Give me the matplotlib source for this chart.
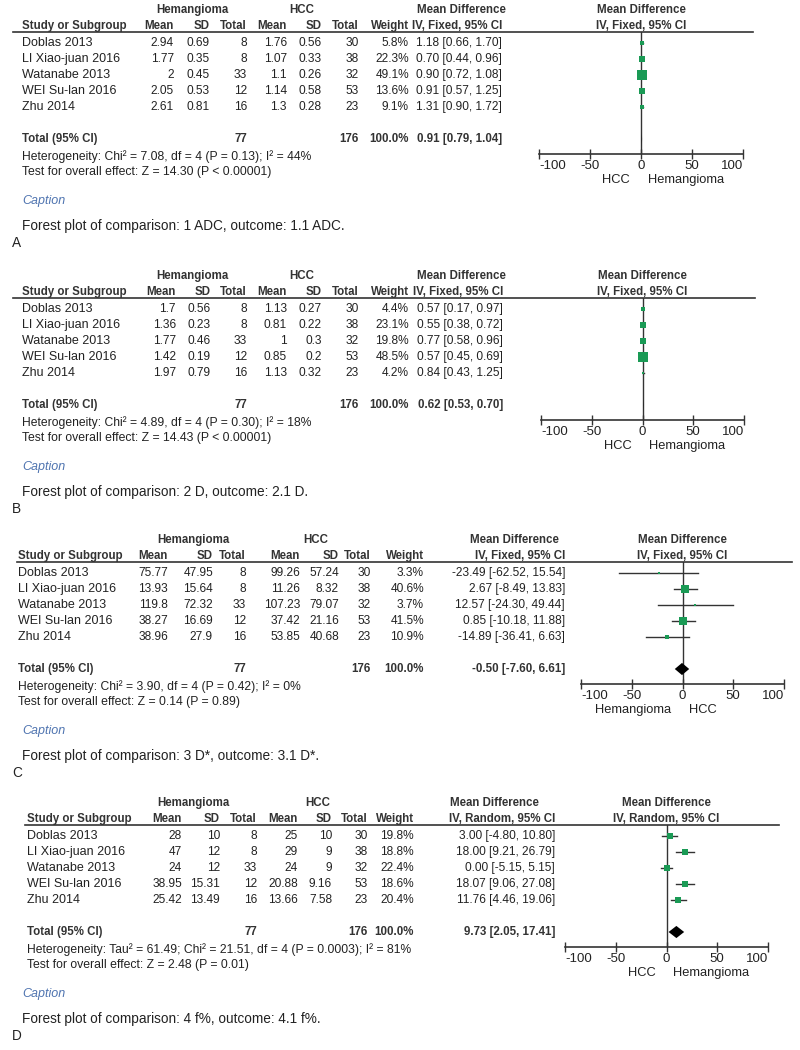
import matplotlib.pyplot as plt
from matplotlib.lines import Line2D

plt.rcParams['font.family'] = ['Liberation Sans', 'DejaVu Sans']
plt.rcParams['axes.unicode_minus'] = False

W, H = 800, 1050

# studies and group sizes (same for all four comparisons)
studies = ['Doblas 2013', 'LI Xiao-juan 2016', 'Watanabe 2013', 'WEI Su-lan 2016', 'Zhu 2014']
hem_n = [8, 8, 33, 12, 16]
hcc_n = [30, 38, 32, 53, 23]

# A - ADC
a_hem_mean = [2.94, 1.77, 2, 2.05, 2.61]
a_hem_sd = [0.69, 0.35, 0.45, 0.53, 0.81]
a_hcc_mean = [1.76, 1.07, 1.1, 1.14, 1.3]
a_hcc_sd = [0.56, 0.33, 0.26, 0.58, 0.28]
a_weight = [5.8, 22.3, 49.1, 13.6, 9.1]
a_md = [1.18, 0.70, 0.90, 0.91, 1.31]
a_lo = [0.66, 0.44, 0.72, 0.57, 0.90]
a_hi = [1.70, 0.96, 1.08, 1.25, 1.72]
a_total = [0.91, 0.79, 1.04]

# B - D
b_hem_mean = [1.7, 1.36, 1.77, 1.42, 1.97]
b_hem_sd = [0.56, 0.23, 0.46, 0.19, 0.79]
b_hcc_mean = [1.13, 0.81, 1, 0.85, 1.13]
b_hcc_sd = [0.27, 0.22, 0.3, 0.2, 0.32]
b_weight = [4.4, 23.1, 19.8, 48.5, 4.2]
b_md = [0.57, 0.55, 0.77, 0.57, 0.84]
b_lo = [0.17, 0.38, 0.58, 0.45, 0.43]
b_hi = [0.97, 0.72, 0.96, 0.69, 1.25]
b_total = [0.62, 0.53, 0.70]

# C - D*
c_hem_mean = [75.77, 13.93, 119.8, 38.27, 38.96]
c_hem_sd = [47.95, 15.64, 72.32, 16.69, 27.9]
c_hcc_mean = [99.26, 11.26, 107.23, 37.42, 53.85]
c_hcc_sd = [57.24, 8.32, 79.07, 21.16, 40.68]
c_weight = [3.3, 40.6, 3.7, 41.5, 10.9]
c_md = [-23.49, 2.67, 12.57, 0.85, -14.89]
c_lo = [-62.52, -8.49, -24.30, -10.18, -36.41]
c_hi = [15.54, 13.83, 49.44, 11.88, 6.63]
c_total = [-0.50, -7.60, 6.61]

# D - f%
d_hem_mean = [28, 47, 24, 38.95, 25.42]
d_hem_sd = [10, 12, 12, 15.31, 13.49]
d_hcc_mean = [25, 29, 24, 20.88, 13.66]
d_hcc_sd = [10, 9, 9, 9.16, 7.58]
d_weight = [19.8, 18.8, 22.4, 18.6, 20.4]
d_md = [3.00, 18.00, 0.00, 18.07, 11.76]
d_lo = [-4.80, 9.21, -5.15, 9.06, 4.46]
d_hi = [10.80, 26.79, 5.15, 27.08, 19.06]
d_total = [9.73, 2.05, 17.41]

ticks = [-100, -50, 0, 50, 100]

fig = plt.figure(figsize=(8, 10.5), dpi=100)
GREEN = '#1a9a55'
DARK = '#333333'
NUM = 8.6


def put(x, y, s, **kw):
    kw.setdefault('va', 'center')
    kw.setdefault('fontsize', 9)
    kw.setdefault('color', '#222222')
    fig.text(x / W, 1 - y / H, s, **kw)


def ci_text(m, l, h):
    return '{:.2f} [{:.2f}, {:.2f}]'.format(m, l, h)


def draw_panel(dy, lay, hem_mean, hem_sd, hcc_mean, hcc_sd, weight, md, lo, hi, total,
               method, het, test, favours, caption, letter):
    sx = lay['study_x']
    cols = lay['cols']
    bold = dict(fontsize=8.3, weight='bold', color=DARK)

    # table header
    put(lay['hem_c'], dy + 10, 'Hemangioma', ha='center', **bold)
    put(lay['hcc_c'], dy + 10, 'HCC', ha='center', **bold)
    put(lay['md_c'], dy + 10, 'Mean Difference', ha='center', **bold)
    put(sx, dy + 26, 'Study or Subgroup', ha='left', **bold)
    heads = ['Mean', 'SD', 'Total', 'Mean', 'SD', 'Total', 'Weight', method]
    for x, s in zip(cols, heads):
        put(x, dy + 26, s, ha='right', **bold)
    fig.add_artist(Line2D([lay['line'][0] / W, lay['line'][1] / W],
                          [1 - (dy + 32) / H] * 2, color=DARK, lw=1.2))

    # study rows
    for i in range(len(studies)):
        y = dy + 43 + 16 * i
        row = ['{:g}'.format(hem_mean[i]), '{:g}'.format(hem_sd[i]), str(hem_n[i]),
               '{:g}'.format(hcc_mean[i]), '{:g}'.format(hcc_sd[i]), str(hcc_n[i]),
               '{:.1f}%'.format(weight[i]), ci_text(md[i], lo[i], hi[i])]
        put(sx, y, studies[i], ha='left')
        for x, s in zip(cols, row):
            put(x, y, s, ha='right', fontsize=NUM)

    # total row and footnotes
    y = dy + 139
    put(sx, y, 'Total (95% CI)', ha='left', **bold)
    put(cols[2], y, str(sum(hem_n)), ha='right', **bold)
    put(cols[5], y, str(sum(hcc_n)), ha='right', **bold)
    put(cols[6], y, '100.0%', ha='right', **bold)
    put(cols[7], y, ci_text(*total), ha='right', **bold)
    put(sx, dy + 157, het, ha='left', fontsize=8.7)
    put(sx, dy + 172, test, ha='left', fontsize=8.8)
    put(22, dy + 201, 'Caption', ha='left', style='italic', color='#4f74b0', fontsize=9)
    put(22, dy + 226, caption, ha='left', fontsize=9.8)
    put(12, dy + 243, letter, ha='left', fontsize=9.8)

    # forest plot
    x0, x1 = lay['axis']
    zero = (x0 + x1) / 2
    put(zero, dy + 10, 'Mean Difference', ha='center', **bold)
    put(zero, dy + 26, method, ha='center', **bold)
    ax = fig.add_axes([x0 / W, 1 - (dy + 154) / H, (x1 - x0) / W, 122 / H])
    ax.set_facecolor('none')
    ax.set_xlim(-100, 100)
    ax.set_ylim((154 - 43) / 16, (32 - 43) / 16)
    ax.axvline(0, color=DARK, lw=1)
    for i in range(len(studies)):
        ax.plot([lo[i], hi[i]], [i, i], color=DARK, lw=1, zorder=2)
        side = lay['sq'] * weight[i] ** 0.5 * 0.72
        ax.plot(md[i], i, 's', ms=side, color=GREEN, mec=GREEN, mew=0, zorder=3)
    m, l, h = total
    ax.fill([l, m, h, m], [6, 5.62, 6, 6.38], color='black', lw=0, zorder=3)

    for s in ['top', 'left', 'right']:
        ax.spines[s].set_visible(False)
    ax.spines['bottom'].set_color(DARK)
    ax.spines['bottom'].set_linewidth(1.2)
    ax.set_yticks([])
    ax.set_xticks(ticks)
    labels = ax.set_xticklabels([str(t) for t in ticks])
    labels[0].set_ha('left')
    labels[-1].set_ha('right')
    ax.tick_params(axis='x', direction='inout', length=7, width=1, colors=DARK,
                   labelsize=9.5, labelcolor='#222222', pad=1)
    ax.annotate(favours[0], xy=(0, 0), xycoords=('data', 'axes fraction'),
                xytext=(-8, -26 * 0.72), textcoords='offset points',
                ha='right', va='center', fontsize=9.3, color='#222222')
    ax.annotate(favours[1], xy=(0, 0), xycoords=('data', 'axes fraction'),
                xytext=(5, -26 * 0.72), textcoords='offset points',
                ha='left', va='center', fontsize=9.3, color='#222222')


lay_a = dict(study_x=22, line=(13, 753), cols=[174, 210, 247, 287, 322, 359, 409, 502],
             hem_c=192, hcc_c=302, md_c=461, axis=(539, 743), sq=1.45)
lay_b = dict(study_x=22, line=(13, 755), cols=[176, 211, 247, 287, 322, 359, 409, 503],
             hem_c=192, hcc_c=302, md_c=461, axis=(541, 744), sq=1.45)
lay_c = dict(study_x=18, line=(17, 792), cols=[168, 213, 246, 300, 339, 371, 424, 565],
             hem_c=193, hcc_c=316, md_c=514, axis=(581, 784), sq=1.25)
lay_d = dict(study_x=27, line=(25, 779), cols=[182, 220, 257, 298, 332, 368, 414, 555],
             hem_c=193, hcc_c=318, md_c=494, axis=(565, 768), sq=1.25)

draw_panel(0, lay_a, a_hem_mean, a_hem_sd, a_hcc_mean, a_hcc_sd, a_weight, a_md, a_lo, a_hi,
           a_total, 'IV, Fixed, 95% CI',
           'Heterogeneity: Chi² = 7.08, df = 4 (P = 0.13); I² = 44%',
           'Test for overall effect: Z = 14.30 (P < 0.00001)',
           ('HCC', 'Hemangioma'), 'Forest plot of comparison: 1 ADC, outcome: 1.1 ADC.', 'A')
draw_panel(266, lay_b, b_hem_mean, b_hem_sd, b_hcc_mean, b_hcc_sd, b_weight, b_md, b_lo, b_hi,
           b_total, 'IV, Fixed, 95% CI',
           'Heterogeneity: Chi² = 4.89, df = 4 (P = 0.30); I² = 18%',
           'Test for overall effect: Z = 14.43 (P < 0.00001)',
           ('HCC', 'Hemangioma'), 'Forest plot of comparison: 2 D, outcome: 2.1 D.', 'B')
draw_panel(530, lay_c, c_hem_mean, c_hem_sd, c_hcc_mean, c_hcc_sd, c_weight, c_md, c_lo, c_hi,
           c_total, 'IV, Fixed, 95% CI',
           'Heterogeneity: Chi² = 3.90, df = 4 (P = 0.42); I² = 0%',
           'Test for overall effect: Z = 0.14 (P = 0.89)',
           ('Hemangioma', 'HCC'), 'Forest plot of comparison: 3 D*, outcome: 3.1 D*.', 'C')
draw_panel(793, lay_d, d_hem_mean, d_hem_sd, d_hcc_mean, d_hcc_sd, d_weight, d_md, d_lo, d_hi,
           d_total, 'IV, Random, 95% CI',
           'Heterogeneity: Tau² = 61.49; Chi² = 21.51, df = 4 (P = 0.0003); I² = 81%',
           'Test for overall effect: Z = 2.48 (P = 0.01)',
           ('HCC', 'Hemangioma'), 'Forest plot of comparison: 4 f%, outcome: 4.1 f%.', 'D')

fig.savefig('out.png', dpi=100)
